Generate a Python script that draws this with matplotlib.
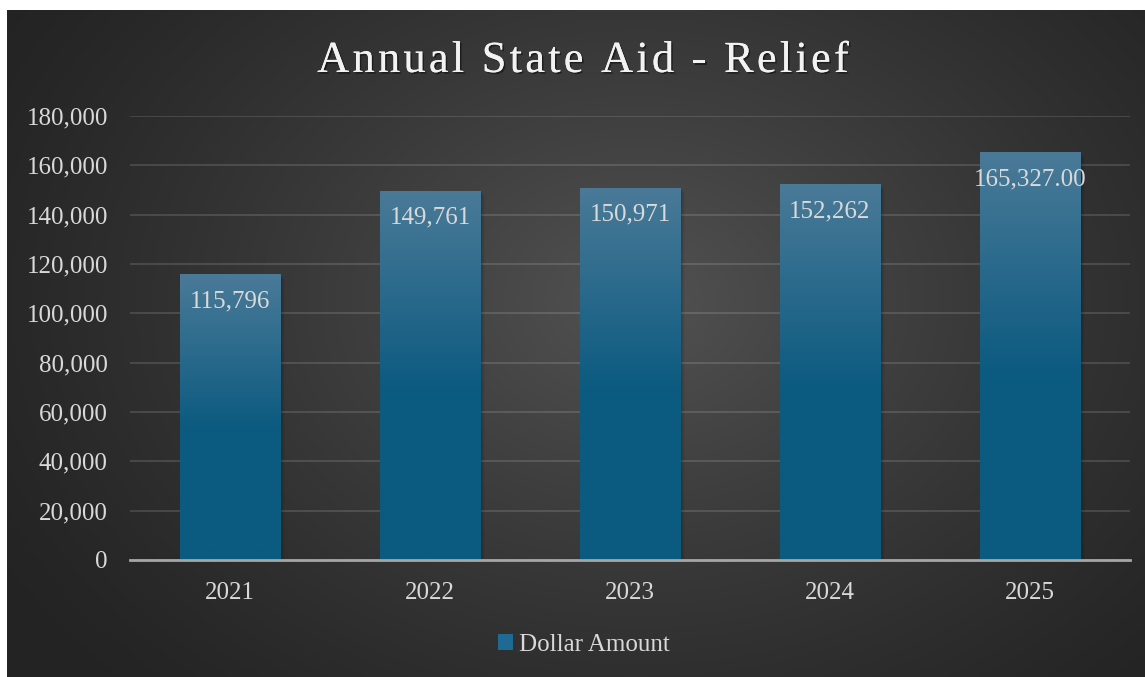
import numpy as np
import matplotlib
matplotlib.use("Agg")
import matplotlib.pyplot as plt
import matplotlib.patheffects as pe
from matplotlib.patches import Rectangle
from matplotlib.ft2font import FT2Font
from matplotlib import font_manager

# --- data -------------------------------------------------------------
years = ["2021", "2022", "2023", "2024", "2025"]
amounts = [115796, 149761, 150971, 152262, 165327.00]
value_labels = ["115,796", "149,761", "150,971", "152,262", "165,327.00"]
y_ticks = [0, 20000, 40000, 60000, 80000, 100000, 120000, 140000, 160000, 180000]
title_text = "Annual State Aid - Relief"
series_name = "Dollar Amount"

# --- styling ----------------------------------------------------------
W, H, DPI = 1145, 677, 100
SERIF = "Liberation Serif"
TEXT_COL = "#d9d9d9"
BAR_TOP = np.array([74, 122, 152]) / 255.0
BAR_BOT = np.array([11, 90, 128]) / 255.0

fig = plt.figure(figsize=(W / DPI, H / DPI), dpi=DPI)
fig.patch.set_facecolor("white")

# dark chart area with a soft radial glow
bg_left, bg_top = 7, 10
bg_ax = fig.add_axes([bg_left / W, 0, (W - bg_left) / W, (H - bg_top) / H])
bg_ax.set_axis_off()
bw, bh = W - bg_left, H - bg_top
yy, xx = np.mgrid[0:bh, 0:bw]
cx, cy = 630, 290
r = np.sqrt(((xx - cx) / 720.0) ** 2 + ((yy - cy) / 540.0) ** 2)
t = np.clip(1 - r, 0, 1) ** 1.2
edge = np.array([36, 36, 36]) / 255.0
center = np.array([82, 82, 82]) / 255.0
bg = edge[None, None, :] + (center - edge)[None, None, :] * t[..., None]
bg_ax.imshow(bg, aspect="auto", extent=[0, 1, 0, 1], origin="upper")
bg_ax.set_xlim(0, 1)
bg_ax.set_ylim(0, 1)

# plot area
pl, pr, pt, pb = 130, 1130, 116, 560
ax = fig.add_axes([pl / W, (H - pb) / H, (pr - pl) / W, (pb - pt) / H])
ax.patch.set_alpha(0)
x = np.arange(len(years))
bar_w = 0.505

ax.set_ylim(0, 180000)
ax.set_xlim(-0.5, len(years) - 0.5)
ax.set_yticks(y_ticks)
ax.set_yticklabels([f"{v:,}" for v in y_ticks])
ax.set_xticks(x)
ax.set_xticklabels(years)
for lab in ax.get_yticklabels() + ax.get_xticklabels():
    lab.set_fontfamily(SERIF)
    lab.set_fontsize(18)
    lab.set_color(TEXT_COL)
ax.tick_params(axis="y", length=0, pad=16)
ax.tick_params(axis="x", length=0, pad=15.5)
for s in ["top", "right", "left"]:
    ax.spines[s].set_visible(False)
ax.spines["bottom"].set_color("#a6a6a6")
ax.spines["bottom"].set_linewidth(2.0)
ax.spines["bottom"].set_zorder(5)
ax.yaxis.grid(True, color="white", alpha=0.13, linewidth=1.5)
ax.set_axisbelow(True)

# soft drop shadow behind bars
for xi, v in zip(x, amounts):
    for k, a in zip(range(1, 6), [0.10, 0.08, 0.06, 0.04, 0.03]):
        ax.add_patch(Rectangle((xi - bar_w / 2 + 0.004 * k, 0), bar_w, v - 350 * k,
                               facecolor="black", alpha=a, edgecolor="none", zorder=1.5))

bars = ax.bar(x, amounts, width=bar_w, color=BAR_BOT, zorder=2, edgecolor="none",
              label=series_name)

# vertical gradient fill for each bar
n = 256
s = np.linspace(0, 1, n)  # 0 at top, 1 at bottom
f = np.clip(s / 0.55, 0, 1)
grad = BAR_TOP[None, :] + (BAR_BOT - BAR_TOP)[None, :] * f[:, None]
grad_img = np.repeat(grad[:, None, :], 2, axis=1)
for b, xi, v in zip(bars, x, amounts):
    im = ax.imshow(grad_img, extent=[xi - bar_w / 2, xi + bar_w / 2, 0, v],
                   aspect="auto", origin="upper", zorder=2.1)
    im.set_clip_path(b)
ax.set_xlim(-0.5, len(years) - 0.5)
ax.set_ylim(0, 180000)

# value labels just inside the top of each bar
for xi, v, txt in zip(x, amounts, value_labels):
    ax.annotate(txt, (xi, v), xytext=(0, -16), textcoords="offset pixels",
                ha="center", va="top", fontfamily=SERIF, fontsize=18,
                color=TEXT_COL, zorder=4)

# title with letter tracking
font_path = font_manager.findfont(font_manager.FontProperties(family=SERIF))
ft = FT2Font(font_path)
title_pt = 32
ft.set_size(title_pt, DPI)
tracking = 3.2
advances = []
for ch in title_text:
    g = ft.load_char(ord(ch))
    advances.append(g.linearHoriAdvance / 65536.0)
total = sum(advances) + tracking * (len(title_text) - 1)
start = 583 - total / 2
baseline = 72
pos = start
shadow = [pe.withSimplePatchShadow(offset=(1.2, -1.2), shadow_rgbFace="black", alpha=0.45),
          pe.Normal()]
for ch, adv in zip(title_text, advances):
    if ch != " ":
        fig.text(pos / W, (H - baseline) / H, ch, fontfamily=SERIF, fontsize=title_pt,
                 color="#f2f2f2", ha="left", va="baseline", path_effects=shadow)
    pos += adv + tracking

# legend
leg = fig.legend(handles=[bars], labels=[series_name], loc="center",
                 bbox_to_anchor=(584 / W, (H - 645) / H), frameon=False,
                 prop={"family": SERIF, "size": 18}, handlelength=0.6,
                 handleheight=0.6, handletextpad=0.25)
for t_ in leg.get_texts():
    t_.set_color(TEXT_COL)
leg.legend_handles[0].set_facecolor("#1f6a92")

fig.savefig("out.png", dpi=DPI, facecolor=fig.get_facecolor())
